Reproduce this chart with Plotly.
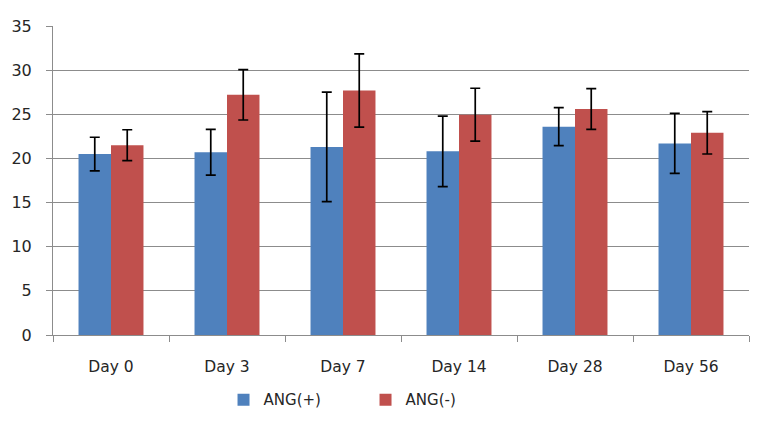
import plotly.graph_objects as go

categories = ["Day 0", "Day 3", "Day 7", "Day 14", "Day 28", "Day 56"]
ang_pos = [20.5, 20.7, 21.3, 20.8, 23.6, 21.7]
ang_pos_err = [1.9, 2.6, 6.2, 4.0, 2.15, 3.4]
ang_neg = [21.5, 27.2, 27.7, 24.95, 25.6, 22.9]
ang_neg_err = [1.75, 2.85, 4.15, 3.0, 2.3, 2.4]

FONT = "DejaVu Sans, sans-serif"
TXT = "#262626"

fig = go.Figure()
fig.add_trace(go.Bar(
    x=categories, y=ang_pos, name="ANG(+)",
    marker=dict(color="#4F81BD", line=dict(width=0)),
    error_y=dict(type="data", array=ang_pos_err, visible=True,
                 color="black", thickness=1.7, width=5),
))
fig.add_trace(go.Bar(
    x=categories, y=ang_neg, name="ANG(-)",
    marker=dict(color="#C0504D", line=dict(width=0)),
    error_y=dict(type="data", array=ang_neg_err, visible=True,
                 color="black", thickness=1.7, width=5),
))

# page body has an 8px default margin, so the figure is 8px smaller
fig.update_layout(
    width=771, height=420,
    margin=dict(l=45, r=30, t=18, b=93, autoexpand=False),
    paper_bgcolor="white", plot_bgcolor="white",
    barmode="group", bargap=0.44, bargroupgap=0,
    font=dict(family=FONT, size=15, color=TXT),
    showlegend=True,
    legend=dict(orientation="h", x=0.245, xanchor="left", y=-0.21, yanchor="middle",
                font=dict(family=FONT, size=15, color=TXT),
                entrywidth=97, entrywidthmode="pixels",
                itemwidth=30, bgcolor="rgba(0,0,0,0)"),
)
fig.update_xaxes(
    type="category", showline=True, linecolor="#8C8C8C", linewidth=1,
    ticks="outside", tickson="boundaries", ticklen=6, tickcolor="#8C8C8C",
    showgrid=False, tickfont=dict(family=FONT, size=15.5, color=TXT),
    ticklabelstandoff=17, automargin=False,
)
fig.update_yaxes(
    range=[0, 35], dtick=5, tick0=0,
    showline=True, linecolor="#8C8C8C", linewidth=1,
    ticks="outside", ticklen=6, tickcolor="#8C8C8C",
    showgrid=True, gridcolor="#8C8C8C", gridwidth=1,
    zeroline=False, tickfont=dict(family=FONT, size=16, color=TXT),
    ticklabelstandoff=11, automargin=False,
)

fig.write_html("out.html")
